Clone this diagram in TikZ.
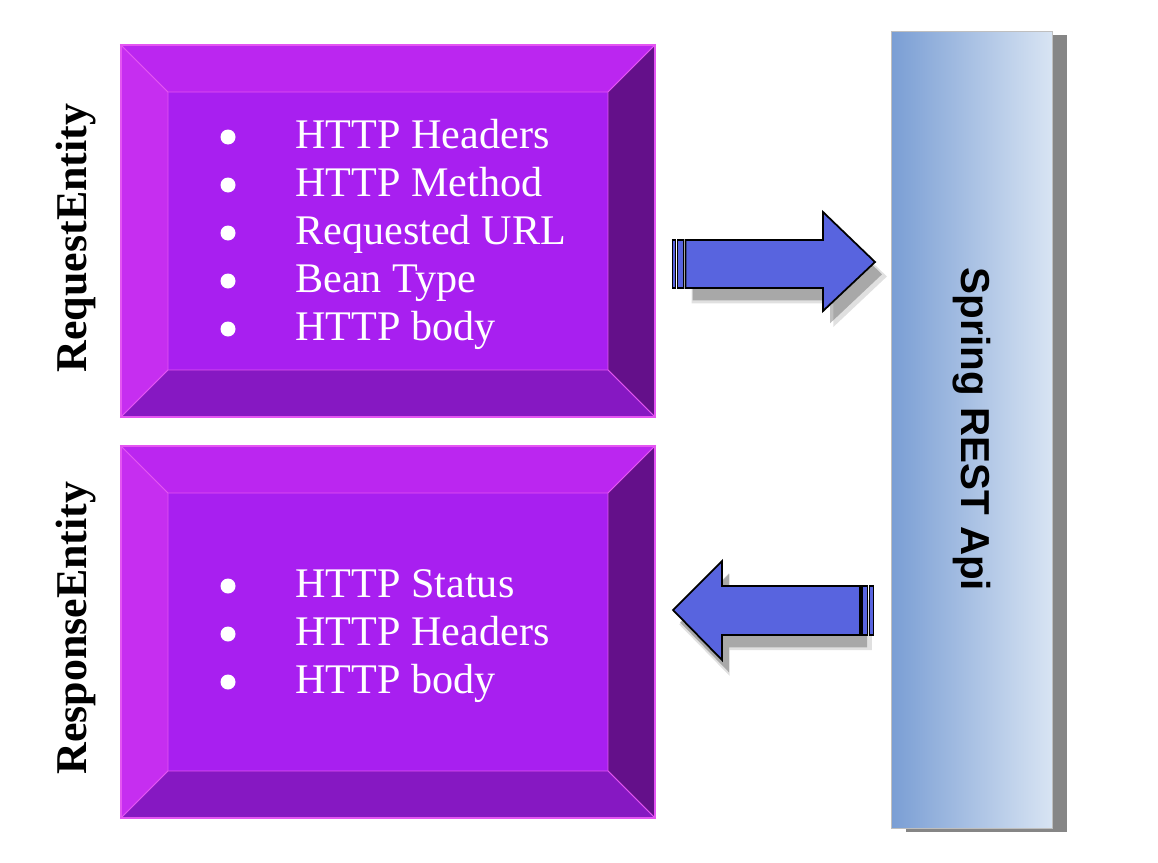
\documentclass[tikz,border=0pt]{standalone}
\usepackage{fontspec}
\setmainfont{Liberation Serif}
\newfontfamily\apifont{Liberation Sans}
\usetikzlibrary{shadows,positioning}
\definecolor{bevelleft}{HTML}{C62EF0}
\definecolor{beveltop}{HTML}{BB26F0}
\definecolor{bevelmid}{HTML}{A81FF0}
\definecolor{bevelright}{HTML}{64108A}
\definecolor{bevelbottom}{HTML}{8618C2}
\definecolor{bevelline}{HTML}{E455F2}
\definecolor{arrowblue}{HTML}{5864DF}
\definecolor{barleft}{HTML}{7A9ED4}
\definecolor{barright}{HTML}{D8E4F3}

\begin{document}
\begin{tikzpicture}
  [x=0.02cm,y=-0.02cm,every node/.style={inner sep=0pt},
   bevel/.style={draw=bevelline,line width=0.5pt},
   item/.style={anchor=base west,text=white,font=\fontsize{24}{28}\selectfont},
   dot/.style={circle,fill=white,minimum size=0.3cm},
   sidelabel/.style={rotate=90,font=\fontsize{25}{30}\selectfont\bfseries},
   stripe/.style={fill=arrowblue,draw=black,line width=0.9pt},
   blockarrow/.style={fill=arrowblue,draw=black,line width=1pt,line join=miter,
     drop shadow={shadow xshift=5pt,shadow yshift=-8pt,opacity=0.12,fill=black,shadow scale=1.03},
     drop shadow={shadow xshift=4pt,shadow yshift=-7pt,opacity=0.25,fill=black}}]
  \useasboundingbox (0,0) rectangle (1158,862);

  % the two bevelled boxes
  \foreach \t/\n in {45/req,446/resp}{
    \pgfmathsetmacro{\b}{\t+372}
    \coordinate (\n-nw) at (121,\t);
    \coordinate (\n-se) at (655,\b);
    \fill[bevelmid] (168,\t+47) rectangle (608,\b-47);
    \fill[bevelleft,bevel] (121,\t) -- (168,\t+47) -- (168,\b-47) -- (121,\b) -- cycle;
    \fill[beveltop,bevel] (121,\t) -- (655,\t) -- (608,\t+47) -- (168,\t+47) -- cycle;
    \fill[bevelright,bevel] (655,\t) -- (655,\b) -- (608,\b-47) -- (608,\t+47) -- cycle;
    \fill[bevelbottom,bevel] (121,\b) -- (168,\b-47) -- (608,\b-47) -- (655,\b) -- cycle;
    \draw[bevelline,line width=1pt] (\n-nw) rectangle (\n-se);
  }

  \node (reqlabel) [sidelabel] at (76,238) {RequestEntity};
  \node (resplabel) [sidelabel] at (76,628) {ResponseEntity};

  % request items
  \foreach \y/\txt [count=\i] in {137/HTTP Headers,185/HTTP Method,233/Requested URL,281/Bean Type,329/HTTP body}{
    \node (reqdot\i) [dot] at (228,\y) {};
    \node (reqitem\i) [item] at (295,\y+11) {\txt};
  }

  % response items
  \foreach \y/\txt [count=\i] in {586/HTTP Status,634/HTTP Headers,682/HTTP body}{
    \node (respdot\i) [dot] at (228,\y) {};
    \node (respitem\i) [item] at (295,\y+11) {\txt};
  }

  % the api bar
  \node (api) [rectangle,minimum width=3.22cm,minimum height=15.94cm,
    left color=barleft,right color=barright,draw=gray!50,
    drop shadow={shadow xshift=0.3cm,shadow yshift=-0.08cm,fill=gray,opacity=0.95}]
    at (971.5,429.5) {};
  \node (apilabel) [rotate=-90,font=\fontsize{23}{28}\selectfont\apifont\bfseries]
    at (api.center) {Spring REST Api};

  % request arrow
  \draw[blockarrow] (685.5,240) -- (823,240) -- (823,212) -- (875,262)
    -- (823,311) -- (823,288) -- (685.5,288) -- cycle;
  \draw[stripe] (672.5,240) rectangle (675.5,288);
  \draw[stripe] (677.5,240) rectangle (683.5,288);

  % response arrow
  \draw[blockarrow] (860,586) -- (722,586) -- (722,561) -- (673,610)
    -- (722,660) -- (722,635) -- (860,635) -- cycle;
  \draw[stripe] (862,586) rectangle (867.5,635);
  \draw[stripe] (869.5,586) rectangle (873.5,635);
\end{tikzpicture}
\end{document}
